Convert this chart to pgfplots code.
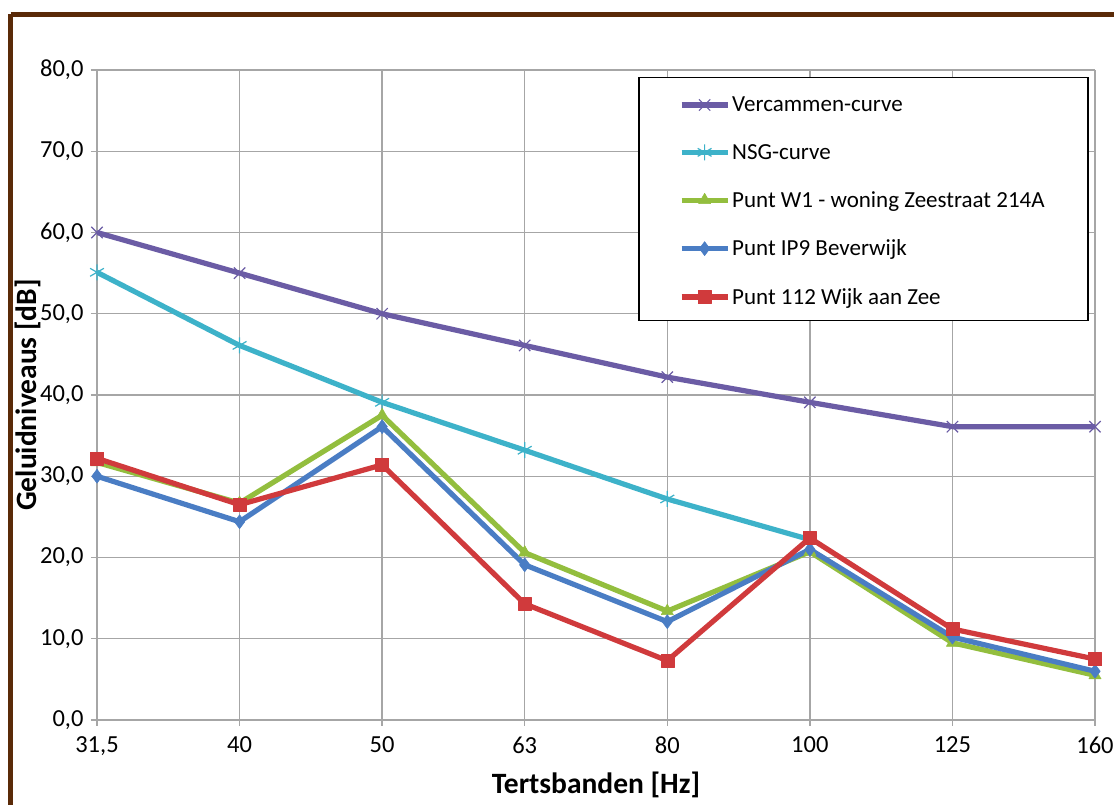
\documentclass[border=0pt]{standalone}
\usepackage{pgfplots}
\pgfplotsset{compat=1.18}
\usepackage{fontspec}
\setmainfont{Carlito}
\definecolor{cPurple}{HTML}{6B5CA5}
\definecolor{cAqua}{HTML}{3DB2C9}
\definecolor{cGreen}{HTML}{93BE3E}
\definecolor{cBlue}{HTML}{4A7DC4}
\definecolor{cRed}{HTML}{D03A3C}
\definecolor{cBrown}{HTML}{5A2A08}
\definecolor{cGrid}{HTML}{A6A6A6}
\begin{document}
\begin{tikzpicture}
\clip (0,0) rectangle (1114pt,805pt);
\path[use as bounding box] (0,0) rectangle (1114pt,805pt);
\fill[white] (0,0) rectangle (1114pt,805pt);
\draw[cBrown, line width=5pt] (10.5pt,790.5pt) -- (1140pt,790.5pt);
\draw[cBrown, line width=5pt] (10.5pt,790.5pt) -- (10.5pt,-20pt);
\begin{axis}[
  at={(97pt,85pt)}, anchor=south west,
  scale only axis, width=998pt, height=650pt,
  xmin=0, xmax=7, ymin=0, ymax=80,
  xtick={0,...,7},
  xticklabels={{31,5},40,50,63,80,100,125,160},
  ytick={0,10,...,80},
  /pgf/number format/.cd, fixed, fixed zerofill, precision=1, use comma, assume math mode=true,
  /pgfplots/.cd,
  grid=major,
  major grid style={cGrid, line width=1.3pt},
  axis line style={cGrid, line width=1.3pt},
  axis x line*=bottom, axis y line*=left,
  tick style={cGrid, line width=1.3pt},
  tick align=outside, major tick length=6pt,
  ticklabel style={font=\fontsize{24.5}{27}\selectfont},
  xticklabel style={yshift=-7pt},
  yticklabel style={xshift=-4pt},
  xlabel={\bfseries Tertsbanden [Hz]},
  ylabel={\bfseries Geluidniveaus [dB]},
  label style={font=\fontsize{29.5}{32}\selectfont},
  xlabel style={at={(axis description cs:0.5,-0.1)}, anchor=center},
  ylabel style={at={(axis description cs:-0.069,0.5)}, anchor=center},
  legend style={at={(axis description cs:0.583,0.962)}, anchor=north west, draw=none, fill=none,
    font=\fontsize{23}{26}\selectfont, row sep=27pt, inner sep=0pt},
  legend cell align=left,
  legend image code/.code={\draw[mark repeat=2,mark phase=2,#1] plot coordinates {(0pt,0pt) (23pt,0pt) (46pt,0pt)};},
  every axis plot/.append style={line width=5.2pt, line join=round},
]
\draw[black, line width=1.3pt, fill=white] (rel axis cs:0.543,0.988) rectangle (rel axis cs:0.993,0.615);
\addplot[cPurple, mark=x, mark size=8pt, mark options={line width=1.2pt}] coordinates {(0,60) (1,55) (2,50) (3,46.1) (4,42.2) (5,39.1) (6,36.1) (7,36.1)};
\addlegendentry{Vercammen-curve}
\addplot[cAqua, mark=asterisk, mark size=8pt, mark options={line width=1.2pt}] coordinates {(0,55.1) (1,46.1) (2,39.1) (3,33.2) (4,27.2) (5,22.2)};
\addlegendentry{NSG-curve}
\addplot[cGreen, mark=triangle*, mark size=7pt, mark options={line width=0.5pt}] coordinates {(0,31.7) (1,26.7) (2,37.5) (3,20.6) (4,13.4) (5,20.7) (6,9.5) (7,5.5)};
\addlegendentry{Punt W1 - woning Zeestraat 214A}
\addplot[cBlue, mark=diamond*, mark size=7pt, mark options={line width=0.5pt}] coordinates {(0,30.0) (1,24.4) (2,36.1) (3,19.1) (4,12.1) (5,21.0) (6,10.2) (7,6.0)};
\addlegendentry{Punt IP9 Beverwijk}
\addplot[cRed, mark=square*, mark size=6.5pt, mark options={line width=0.5pt}] coordinates {(0,32.2) (1,26.5) (2,31.4) (3,14.3) (4,7.3) (5,22.4) (6,11.2) (7,7.5)};
\addlegendentry{Punt 112 Wijk aan Zee}
\end{axis}
\end{tikzpicture}
\end{document}
